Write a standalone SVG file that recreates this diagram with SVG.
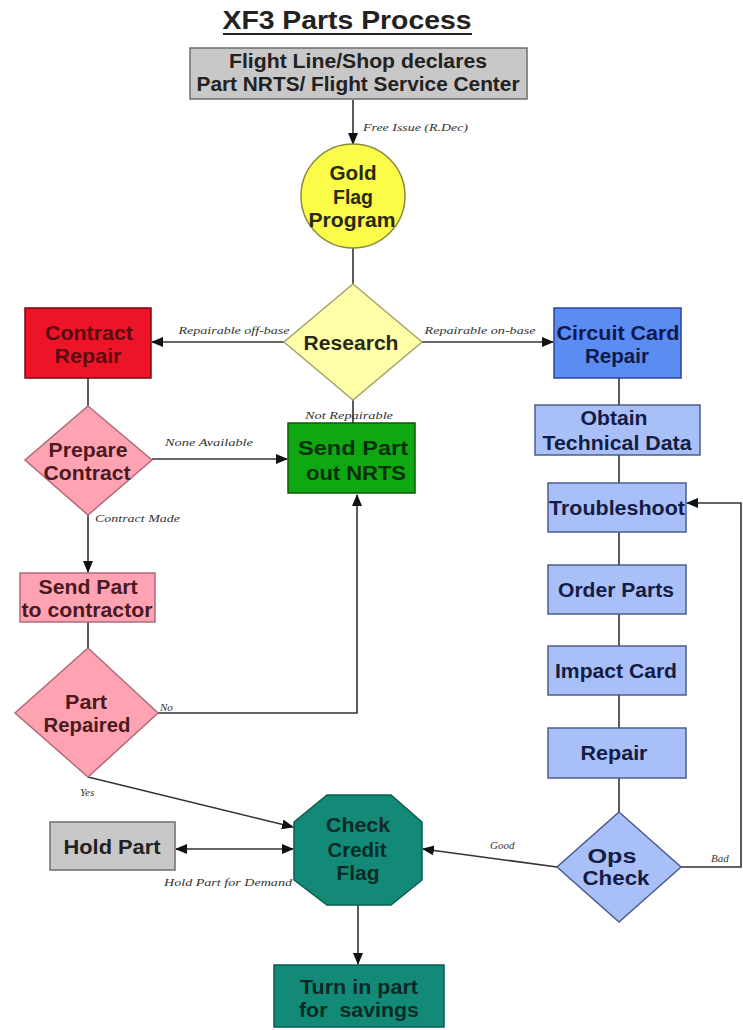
<svg xmlns="http://www.w3.org/2000/svg" width="743" height="1030" viewBox="0 0 743 1030">
<style>
.t{font-family:"Liberation Sans",Arial,sans-serif;font-weight:bold;font-size:20px;text-anchor:middle}
.lb{font-family:"Liberation Serif","Times New Roman",serif;font-style:italic;font-size:11px;fill:#333}
.c{fill:none;stroke:#333;stroke-width:1.6}
.a{marker-end:url(#ah)}
.gray{fill:#c8c8c8;stroke:#6e6e6e;stroke-width:1.5}
.pink{fill:#ffa3b3;stroke:#b06a78;stroke-width:1.5}
.lblue{fill:#a8bff8;stroke:#4c5c8c;stroke-width:1.5}
.teal{fill:#138a78;stroke:#0b5c50;stroke-width:1.5}
</style>
<defs>
<marker id="ah" markerUnits="userSpaceOnUse" markerWidth="12" markerHeight="10" refX="11" refY="5" orient="auto-start-reverse">
<path d="M0,0 L12,5 L0,10 z" fill="#111"/>
</marker>
</defs>
<rect width="743" height="1030" fill="#fff"/>

<g id="title">
<text x="347" y="29" font-family="Liberation Sans,Arial,sans-serif" font-weight="bold" font-size="26" text-anchor="middle" fill="#222" textLength="249" lengthAdjust="spacingAndGlyphs">XF3 Parts Process</text>
<line x1="223" y1="34" x2="472" y2="34" stroke="#222" stroke-width="2"/>
</g>

<g id="connectors">
<line class="c a" x1="353" y1="100" x2="353" y2="144"/>
<line class="c" x1="353" y1="247" x2="353" y2="284"/>
<line class="c a" x1="284" y1="342" x2="152" y2="342"/>
<line class="c a" x1="422" y1="342" x2="553" y2="342"/>
<line class="c" x1="353" y1="400" x2="353" y2="423"/>
<line class="c" x1="88" y1="378" x2="88" y2="406"/>
<line class="c a" x1="152" y1="459" x2="287" y2="459"/>
<line class="c a" x1="88" y1="515" x2="88" y2="572"/>
<line class="c" x1="88" y1="622" x2="88" y2="648"/>
<polyline class="c a" points="158,713 357,713 357,495"/>
<line class="c a" x1="88" y1="777" x2="293" y2="827"/>
<line class="c a" x1="176" y1="849" x2="293" y2="849" marker-start="url(#ah)"/>
<line class="c a" x1="358" y1="905" x2="358" y2="964"/>
<line class="c a" x1="557" y1="867" x2="423" y2="849"/>
<polyline class="c a" points="681,867 741,867 741,503 687,503"/>
<line class="c" x1="619" y1="378" x2="619" y2="405"/>
<line class="c" x1="619" y1="455" x2="619" y2="483"/>
<line class="c" x1="619" y1="532" x2="619" y2="565"/>
<line class="c" x1="619" y1="614" x2="619" y2="646"/>
<line class="c" x1="619" y1="695" x2="619" y2="728"/>
<line class="c" x1="619" y1="778" x2="619" y2="812"/>
<text class="lb" x="363" y="131" textLength="105" lengthAdjust="spacingAndGlyphs">Free Issue (R.Dec)</text>
<text class="lb" x="234" y="334" text-anchor="middle" textLength="111" lengthAdjust="spacingAndGlyphs">Repairable off-base</text>
<text class="lb" x="480" y="334" text-anchor="middle" textLength="111" lengthAdjust="spacingAndGlyphs">Repairable on-base</text>
<text class="lb" x="349" y="419" text-anchor="middle" textLength="88" lengthAdjust="spacingAndGlyphs">Not Repairable</text>
<text class="lb" x="209" y="446" text-anchor="middle" textLength="88" lengthAdjust="spacingAndGlyphs">None Available</text>
<text class="lb" x="95" y="522" textLength="85" lengthAdjust="spacingAndGlyphs">Contract Made</text>
<text class="lb" x="160" y="711">No</text>
<text class="lb" x="80" y="796">Yes</text>
<text class="lb" x="228" y="886" text-anchor="middle" textLength="128" lengthAdjust="spacingAndGlyphs">Hold Part for Demand</text>
<text class="lb" x="490" y="849">Good</text>
<text class="lb" x="711" y="862">Bad</text>
</g>

<g id="declare">
<rect class="gray" x="190" y="48" width="337" height="51"/>
<text class="t" x="358" y="68" font-size="18" fill="#222" textLength="258" lengthAdjust="spacingAndGlyphs">Flight Line/Shop declares</text>
<text class="t" x="358" y="91" font-size="18" fill="#222" textLength="323" lengthAdjust="spacingAndGlyphs">Part NRTS/ Flight Service Center</text>
</g>

<g id="goldflag">
<circle cx="353" cy="196" r="52" fill="#fbfb4a" stroke="#8a8a3c" stroke-width="1.5"/>
<text class="t" x="353" y="180" fill="#2a2a10" textLength="47" lengthAdjust="spacingAndGlyphs">Gold</text>
<text class="t" x="353" y="204" fill="#2a2a10" textLength="40" lengthAdjust="spacingAndGlyphs">Flag</text>
<text class="t" x="352" y="227" fill="#2a2a10" textLength="87" lengthAdjust="spacingAndGlyphs">Program</text>
</g>

<g id="research">
<polygon points="353,284 422,342 353,400 284,342" fill="#ffffaa" stroke="#a6a466" stroke-width="1.5"/>
<text class="t" x="351" y="350" fill="#2a2a10" textLength="95" lengthAdjust="spacingAndGlyphs">Research</text>
</g>

<g id="contractrepair">
<rect x="25" y="308" width="126" height="70" fill="#ee1427" stroke="#7a0a12" stroke-width="1.5"/>
<text class="t" x="89" y="340" fill="#5a0a10" textLength="88" lengthAdjust="spacingAndGlyphs">Contract</text>
<text class="t" x="88" y="363" fill="#5a0a10" textLength="67" lengthAdjust="spacingAndGlyphs">Repair</text>
</g>

<g id="circuitcard">
<rect x="554" y="308" width="127" height="70" fill="#5b8cf2" stroke="#2a44a0" stroke-width="1.5"/>
<text class="t" x="618" y="340" fill="#0c1a4e" textLength="123" lengthAdjust="spacingAndGlyphs">Circuit Card</text>
<text class="t" x="617" y="363" fill="#0c1a4e" textLength="64" lengthAdjust="spacingAndGlyphs">Repair</text>
</g>

<g id="sendnrts">
<rect x="288" y="423" width="127" height="70" fill="#10a812" stroke="#0a5a0a" stroke-width="1.5"/>
<text class="t" x="353" y="455" fill="#063006" textLength="110" lengthAdjust="spacingAndGlyphs">Send Part</text>
<text class="t" x="356" y="480" fill="#063006" textLength="100" lengthAdjust="spacingAndGlyphs">out NRTS</text>
</g>

<g id="preparecontract">
<polygon class="pink" points="88,406 152,460 88,515 25,460"/>
<text class="t" x="88" y="457" fill="#4a1a1e" textLength="79" lengthAdjust="spacingAndGlyphs">Prepare</text>
<text class="t" x="87" y="480" fill="#4a1a1e" textLength="87" lengthAdjust="spacingAndGlyphs">Contract</text>
</g>

<g id="sendcontractor">
<rect class="pink" x="20" y="573" width="135" height="49"/>
<text class="t" x="88" y="594" fill="#4a1a1e" textLength="99" lengthAdjust="spacingAndGlyphs">Send Part</text>
<text class="t" x="87" y="617" fill="#4a1a1e" textLength="131" lengthAdjust="spacingAndGlyphs">to contractor</text>
</g>

<g id="partrepaired">
<polygon class="pink" points="88,648 158,713 88,777 15,713"/>
<text class="t" x="86" y="709" fill="#4a1a1e" textLength="42" lengthAdjust="spacingAndGlyphs">Part</text>
<text class="t" x="87" y="732" fill="#4a1a1e" textLength="87" lengthAdjust="spacingAndGlyphs">Repaired</text>
</g>

<g id="obtain">
<rect class="lblue" x="535" y="405" width="165" height="50"/>
<text class="t" x="614" y="425" fill="#141c44" textLength="67" lengthAdjust="spacingAndGlyphs">Obtain</text>
<text class="t" x="617" y="450" fill="#141c44" textLength="149" lengthAdjust="spacingAndGlyphs">Technical Data</text>
</g>

<g id="troubleshoot">
<rect class="lblue" x="548" y="483" width="138" height="49"/>
<text class="t" x="617" y="515" fill="#141c44" textLength="136" lengthAdjust="spacingAndGlyphs">Troubleshoot</text>
</g>

<g id="orderparts">
<rect class="lblue" x="548" y="565" width="138" height="49"/>
<text class="t" x="616" y="597" fill="#141c44" textLength="116" lengthAdjust="spacingAndGlyphs">Order Parts</text>
</g>

<g id="impactcard">
<rect class="lblue" x="548" y="646" width="138" height="49"/>
<text class="t" x="616" y="678" fill="#141c44" textLength="122" lengthAdjust="spacingAndGlyphs">Impact Card</text>
</g>

<g id="repair">
<rect class="lblue" x="548" y="728" width="138" height="50"/>
<text class="t" x="614" y="760" fill="#141c44" textLength="67" lengthAdjust="spacingAndGlyphs">Repair</text>
</g>

<g id="opscheck">
<polygon class="lblue" points="619,812 681,867 619,922 557,867"/>
<text class="t" x="612" y="863" fill="#141c44" textLength="49" lengthAdjust="spacingAndGlyphs">Ops</text>
<text class="t" x="616" y="885" fill="#141c44" textLength="67" lengthAdjust="spacingAndGlyphs">Check</text>
</g>

<g id="holdpart">
<rect class="gray" x="50" y="822" width="125" height="48"/>
<text class="t" x="112" y="854" fill="#222" textLength="97" lengthAdjust="spacingAndGlyphs">Hold Part</text>
</g>

<g id="checkcredit">
<polygon class="teal" points="327,795 391,795 422,822 422,880 391,905 327,905 294,880 294,822"/>
<text class="t" x="358" y="832" fill="#0a2a26" textLength="64" lengthAdjust="spacingAndGlyphs">Check</text>
<text class="t" x="357" y="857" fill="#0a2a26" textLength="59" lengthAdjust="spacingAndGlyphs">Credit</text>
<text class="t" x="358" y="880" fill="#0a2a26" textLength="43" lengthAdjust="spacingAndGlyphs">Flag</text>
</g>

<g id="turnin">
<rect class="teal" x="274" y="965" width="170" height="62"/>
<text class="t" x="359" y="994" fill="#0a2a26" textLength="118" lengthAdjust="spacingAndGlyphs">Turn in part</text>
<text class="t" x="359" y="1017" fill="#0a2a26" xml:space="preserve" textLength="120" lengthAdjust="spacingAndGlyphs">for  savings</text>
</g>
</svg>
